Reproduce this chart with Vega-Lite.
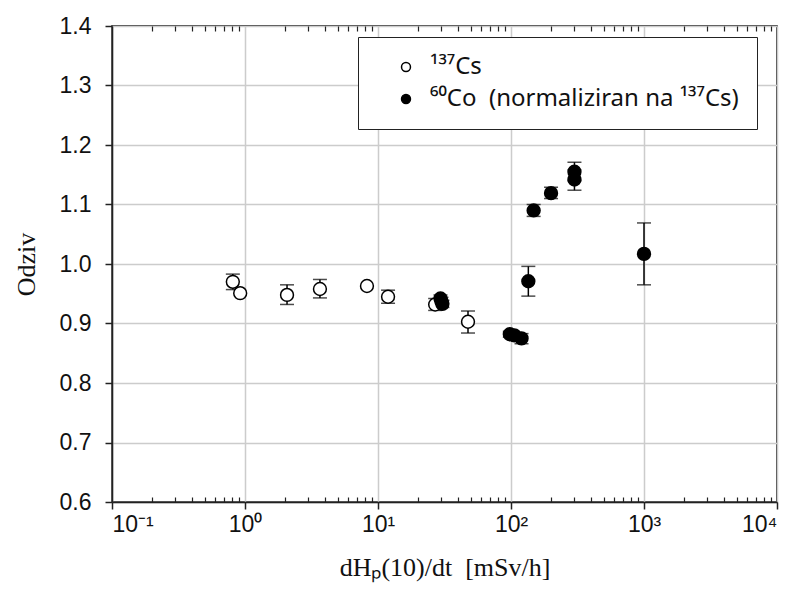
{
  "$schema": "https://vega.github.io/schema/vega-lite/v6.json",
  "width": 665,
  "height": 476,
  "autosize": {"type": "none"},
  "padding": {"left": 112, "top": 26, "right": 21, "bottom": 92},
  "background": "white",
  "config": {
    "view": {"stroke": "black", "strokeWidth": 1.5},
    "axis": {"labelFont": "Liberation Sans", "labelFontSize": 23, "labelColor": "#111", "titleFont": "Liberation Serif", "titleFontSize": 26, "titleFontWeight": "normal", "titleColor": "#111", "tickColor": "#222", "domainColor": "#222"}
  },
  "data": {"values": [
    {"src": "Cs", "x": 0.81, "y": 0.970, "lo": 0.957, "hi": 0.983},
    {"src": "Cs", "x": 0.92, "y": 0.951},
    {"src": "Cs", "x": 2.07, "y": 0.948, "lo": 0.932, "hi": 0.965},
    {"src": "Cs", "x": 3.66, "y": 0.958, "lo": 0.943, "hi": 0.974},
    {"src": "Cs", "x": 8.26, "y": 0.963},
    {"src": "Cs", "x": 11.9, "y": 0.945, "lo": 0.934, "hi": 0.956},
    {"src": "Cs", "x": 26.9, "y": 0.932, "lo": 0.922, "hi": 0.942},
    {"src": "Cs", "x": 47.5, "y": 0.903, "lo": 0.884, "hi": 0.921},
    {"src": "Co", "x": 29.5, "y": 0.942, "lo": 0.935, "hi": 0.948},
    {"src": "Co", "x": 30, "y": 0.937, "lo": 0.930, "hi": 0.944},
    {"src": "Co", "x": 30.5, "y": 0.933, "lo": 0.927, "hi": 0.939},
    {"src": "Co", "x": 98, "y": 0.882, "lo": 0.877, "hi": 0.887},
    {"src": "Co", "x": 106, "y": 0.880, "lo": 0.875, "hi": 0.885},
    {"src": "Co", "x": 120, "y": 0.875, "lo": 0.866, "hi": 0.883},
    {"src": "Co", "x": 135, "y": 0.971, "lo": 0.946, "hi": 0.996},
    {"src": "Co", "x": 148, "y": 1.090, "lo": 1.080, "hi": 1.100},
    {"src": "Co", "x": 200, "y": 1.119, "lo": 1.110, "hi": 1.129},
    {"src": "Co", "x": 300, "y": 1.155, "lo": 1.140, "hi": 1.171},
    {"src": "Co", "x": 300, "y": 1.142, "lo": 1.124, "hi": 1.158},
    {"src": "Co", "x": 1000, "y": 1.017, "lo": 0.965, "hi": 1.069}
  ]},
  "resolve": {"axis": {"x": "independent", "y": "independent"}},
  "layer": [
    {
      "mark": {"type": "rule", "color": "black", "strokeWidth": 1.5},
      "encoding": {
        "x": {"field": "x", "type": "quantitative",
          "scale": {"type": "log", "domain": [0.1, 10000], "nice": false},
          "axis": {"orient": "bottom", "values": [0.1, 1, 10, 100, 1000, 10000], "grid": true, "gridColor": "#cccccc", "gridWidth": 1.5, "tickSize": 7, "tickWidth": 1.5, "domainWidth": 1.5, "labelPadding": 4,
            "labelExpr": "datum.value < 0.5 ? '10⁻¹' : datum.value < 5 ? '10⁰' : datum.value < 50 ? '10¹' : datum.value < 500 ? '10²' : datum.value < 5000 ? '10³' : '10⁴'",
            "title": "dHₚ(10)/dt\u00a0\u00a0[mSv/h]", "titlePadding": 18}},
        "y": {"field": "lo", "type": "quantitative",
          "scale": {"domain": [0.6, 1.4], "nice": false, "zero": false},
          "axis": {"orient": "left", "values": [0.6, 0.7, 0.8, 0.9, 1.0, 1.1, 1.2, 1.3, 1.4], "format": ".1f", "grid": true, "gridColor": "#cccccc", "gridWidth": 1.5, "tickSize": 7, "tickWidth": 1.5, "domainWidth": 1.5, "labelPadding": 14, "title": "Odziv", "titlePadding": 20}},
        "y2": {"field": "hi"}
      }
    },
    {
      "mark": {"type": "tick", "color": "black", "orient": "horizontal", "size": 14, "thickness": 1.5},
      "encoding": {
        "x": {"field": "x", "type": "quantitative", "scale": {"type": "log", "domain": [0.1, 10000], "nice": false},
          "axis": {"orient": "bottom", "values": [0.2,0.3,0.4,0.5,0.6,0.7,0.8,0.9,2,3,4,5,6,7,8,9,20,30,40,50,60,70,80,90,200,300,400,500,600,700,800,900,2000,3000,4000,5000,6000,7000,8000,9000], "labels": false, "grid": false, "domain": false, "tickSize": -5, "tickWidth": 1.2, "title": null}},
        "y": {"field": "lo", "type": "quantitative", "scale": {"domain": [0.6, 1.4], "nice": false, "zero": false}, "axis": null}
      }
    },
    {
      "mark": {"type": "tick", "color": "black", "orient": "horizontal", "size": 14, "thickness": 1.5},
      "encoding": {
        "x": {"field": "x", "type": "quantitative", "scale": {"type": "log", "domain": [0.1, 10000], "nice": false},
          "axis": {"orient": "top", "values": [0.2,0.3,0.4,0.5,0.6,0.7,0.8,0.9,2,3,4,5,6,7,8,9,20,30,40,50,60,70,80,90,200,300,400,500,600,700,800,900,2000,3000,4000,5000,6000,7000,8000,9000], "labels": false, "grid": false, "domain": false, "tickSize": -5, "tickWidth": 1.2, "title": null}},
        "y": {"field": "hi", "type": "quantitative", "scale": {"domain": [0.6, 1.4], "nice": false, "zero": false}, "axis": null}
      }
    },
    {
      "mark": {"type": "point", "shape": "circle", "filled": true, "stroke": "black", "strokeWidth": 1.5, "size": 165, "opacity": 1},
      "encoding": {
        "x": {"field": "x", "type": "quantitative", "scale": {"type": "log", "domain": [0.1, 10000], "nice": false}, "axis": null},
        "y": {"field": "y", "type": "quantitative", "scale": {"domain": [0.6, 1.4], "nice": false, "zero": false}, "axis": null},
        "fill": {"field": "src", "type": "nominal",
          "scale": {"domain": ["Cs", "Co"], "range": ["white", "black"]},
          "legend": {"orient": "none", "legendX": 246, "legendY": 11, "title": null,
            "strokeColor": "#222", "fillColor": "white", "padding": 18, "symbolOffset": 18,
            "symbolType": "circle", "symbolSize": 80, "symbolStrokeColor": "black", "symbolStrokeWidth": 1.5,
            "labelFont": "Noto Sans", "labelFontSize": 24, "labelColor": "#111", "labelLimit": 500, "labelOffset": 12, "rowPadding": 8,
            "labelExpr": "datum.value == 'Cs' ? '¹³⁷Cs' : '⁶⁰Co\u00a0\u00a0(normaliziran na ¹³⁷Cs)'"}}
      }
    }
  ]
}
